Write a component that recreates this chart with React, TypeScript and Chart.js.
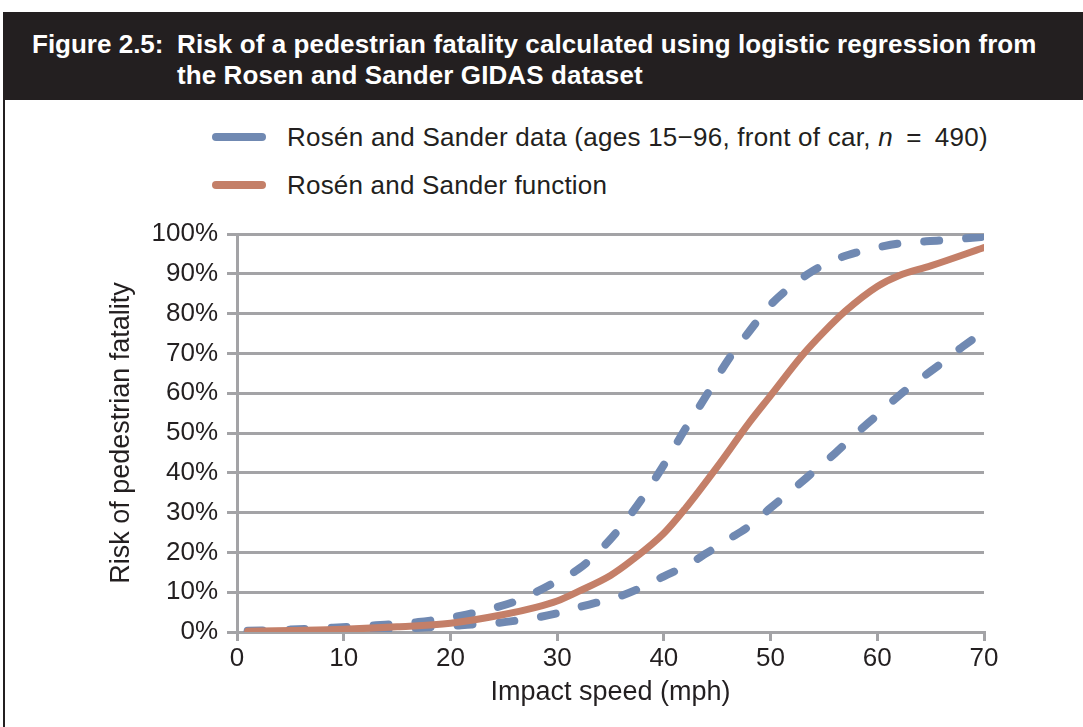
import React, { useEffect, useRef } from "react";
import { Chart, registerables } from "chart.js";

Chart.register(...registerables);

// ---- Data ----
const fnSpeed = [1, 5, 10, 15, 20, 25, 28, 30, 32, 35, 37, 40, 42, 45, 48, 50, 53, 55, 57, 60, 62, 65, 70];
const fnRisk = [0.2, 0.4, 0.7, 1.3, 2.2, 4.4, 6.2, 7.8, 10.2, 14.2, 18, 24.8, 31, 41.5, 52.6, 59.4, 69.6, 75.4, 80.6, 86.8, 89.5, 92, 96.6];

const upperSpeed = [1, 5, 9, 13, 17, 21, 24, 26, 28, 30, 32, 34, 36, 38, 40, 42, 44, 46, 48, 50, 52, 54, 56, 58, 60, 62, 66, 70];
const upperRisk = [0.3, 0.6, 1.1, 1.7, 2.5, 4.1, 6, 7.6, 10, 12.8, 15.8, 20.5, 26.5, 33.7, 42, 51, 59.5, 68.3, 75.5, 82.2, 87, 90.8, 93.5, 95.3, 96.6, 97.6, 98.4, 99.3];

const lowerSpeed = [1, 5, 10, 15, 18, 20, 22, 24, 26, 28, 30, 32, 34, 36, 38, 40, 42, 44, 46, 48, 50, 52, 54, 56, 58, 60, 62, 64, 66, 68, 70];
const lowerRisk = [0, 0.1, 0.3, 0.8, 1.2, 1.5, 1.9, 2.2, 2.8, 3.6, 4.7, 6.2, 7.6, 9.1, 11.3, 14, 16.5, 19.8, 23.2, 26.6, 31.2, 35.6, 40.2, 44.8, 49.8, 54.5, 59.3, 63.5, 67.5, 71.7, 75.5];

const xTicks = [0, 10, 20, 30, 40, 50, 60, 70];
const yTicks = [0, 10, 20, 30, 40, 50, 60, 70, 80, 90, 100];

const TITLE_LABEL = "Figure 2.5:";
const TITLE_LINES = ["Risk of a pedestrian fatality calculated using logistic regression from", "the Rosen and Sander GIDAS dataset"];
const LEGEND_DATA = "Rosén and Sander data (ages 15−96, front of car, ";
const LEGEND_FN = "Rosén and Sander function";
const X_TITLE = "Impact speed (mph)";
const Y_TITLE = "Risk of pedestrian fatality";

const BLUE = "#7089b2";
const ORANGE = "#c47f68";
const GRID = "#a3a3a6";
const INK = "#231f20";
const FONT = "'Liberation Sans', Arial, Helvetica, sans-serif";

const toPts = (xs: number[], ys: number[]) => xs.map((x, i) => ({ x, y: ys[i] }));

export default function App() {
  const canvasRef = useRef<HTMLCanvasElement | null>(null);

  useEffect(() => {
    const canvas = canvasRef.current;
    if (!canvas) return;
    const chart = new Chart(canvas, {
      type: "line",
      data: {
        datasets: [
          {
            label: LEGEND_FN,
            data: toPts(fnSpeed, fnRisk),
            borderColor: ORANGE,
            borderWidth: 7,
            pointRadius: 0,
            cubicInterpolationMode: "monotone",
            borderCapStyle: "round",
            order: 0,
          },
          {
            label: "upper",
            data: toPts(upperSpeed, upperRisk),
            borderColor: BLUE,
            borderWidth: 8,
            pointRadius: 0,
            borderDash: [15, 27],
            borderCapStyle: "round",
            cubicInterpolationMode: "monotone",
            order: 1,
          },
          {
            label: "lower",
            data: toPts(lowerSpeed, lowerRisk),
            borderColor: BLUE,
            borderWidth: 8,
            pointRadius: 0,
            borderDash: [15, 27],
            borderCapStyle: "round",
            cubicInterpolationMode: "monotone",
            order: 1,
          },
        ],
      },
      options: {
        animation: false,
        responsive: false,
        events: [],
        layout: { padding: { top: 34, right: 99, left: 0, bottom: 0 } },
        plugins: { legend: { display: false }, tooltip: { enabled: false } },
        scales: {
          x: {
            type: "linear",
            min: 0,
            max: 70,
            afterBuildTicks: (s: any) => {
              s.ticks = xTicks.map((v) => ({ value: v }));
            },
            afterFit: (s: any) => {
              s.height = 95;
            },
            ticks: { color: INK, font: { family: FONT, size: 26 }, padding: 2, maxRotation: 0 },
            grid: { drawOnChartArea: false, color: GRID, lineWidth: 3, tickLength: 9 },
            border: { color: GRID, width: 3 },
            title: {
              display: true,
              text: X_TITLE,
              color: INK,
              font: { family: FONT, size: 27 },
              padding: { top: 0, bottom: 18 },
            },
          },
          y: {
            type: "linear",
            min: 0,
            max: 100,
            afterBuildTicks: (s: any) => {
              s.ticks = yTicks.map((v) => ({ value: v }));
            },
            afterFit: (s: any) => {
              s.width = 237;
            },
            ticks: {
              color: INK,
              font: { family: FONT, size: 26 },
              padding: 9,
              callback: (v: any) => v + "%",
            },
            grid: { color: GRID, lineWidth: 3, tickLength: 10 },
            border: { color: GRID, width: 3 },
            title: {
              display: true,
              text: Y_TITLE,
              color: INK,
              font: { family: FONT, size: 27 },
              padding: { top: 105, bottom: 0 },
            },
          },
        },
      },
    } as any);
    return () => chart.destroy();
  }, []);

  return (
    <div
      style={{
        position: "absolute",
        left: 0,
        top: 0,
        width: 1083,
        height: 727,
        background: "#fff",
        overflow: "hidden",
        fontFamily: FONT,
        color: INK,
      }}
    >
      <div
        style={{
          position: "absolute",
          left: 3,
          top: 12,
          width: 1080,
          height: 88,
          background: INK,
          color: "#fff",
          fontWeight: "bold",
          fontSize: 26,
          lineHeight: "31px",
        }}
      >
        <div style={{ position: "absolute", left: 29, top: 17, whiteSpace: "nowrap" }}>{TITLE_LABEL}</div>
        <div style={{ position: "absolute", left: 174, top: 17, whiteSpace: "nowrap", letterSpacing: 0.1 }}>
          <div>{TITLE_LINES[0]}</div>
          <div>{TITLE_LINES[1]}</div>
        </div>
      </div>
      <div style={{ position: "absolute", left: 3, top: 100, width: 2, height: 627, background: INK }} />

      <div style={{ position: "absolute", left: 212, top: 133, width: 54, height: 8, borderRadius: 4, background: BLUE }} />
      <div
        style={{ position: "absolute", left: 287, top: 121, fontSize: 26, lineHeight: "32px", whiteSpace: "nowrap", letterSpacing: 0.25 }}
      >
        {LEGEND_DATA}
        <i>n</i>
        {"\u2002=\u2002490)"}
      </div>
      <div style={{ position: "absolute", left: 212, top: 181, width: 54, height: 8, borderRadius: 4, background: ORANGE }} />
      <div
        style={{ position: "absolute", left: 287, top: 169, fontSize: 26, lineHeight: "32px", whiteSpace: "nowrap", letterSpacing: 0.2 }}
      >
        {LEGEND_FN}
      </div>

      <canvas
        ref={canvasRef}
        width={1083}
        height={527}
        style={{ position: "absolute", left: 0, top: 200, width: 1083, height: 527 }}
      />
    </div>
  );
}
